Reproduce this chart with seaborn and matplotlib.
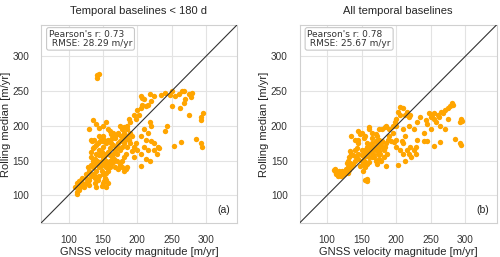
import matplotlib
matplotlib.use("Agg")
import matplotlib.pyplot as plt
import seaborn as sns
import pandas as pd


# (a) temporal baselines < 180 d : GNSS magnitude vs rolling median
GNSS_A = [
    142, 145, 142,
    265, 268, 260, 275, 280, 278, 270, 262, 268, 250, 255, 248, 235, 240, 225, 218, 205,
    207, 210, 220, 215, 207, 212, 205, 200, 202, 198, 195, 190, 188, 185, 175, 180, 178,
    172, 168, 165, 162, 160, 158, 155, 150, 145, 135, 140, 130, 137, 145, 150,
    275, 293, 295, 292, 285, 292, 294, 263, 254, 240, 243, 250,
    218, 220, 210, 215, 205, 212, 220, 225, 210, 215, 225, 230, 232, 228, 218, 213, 205,
    205, 200, 195, 198, 192, 190, 195,
    113, 112, 115, 110, 112, 115, 118, 120, 122, 125, 128, 125, 130, 132, 130, 135, 138,
    140, 135, 132, 130, 128, 140, 142, 138, 135, 133, 133, 135, 133, 140, 145, 145, 148,
    150, 148, 150, 152, 155, 155, 158, 160, 160, 162, 165, 165, 168, 170, 172, 175, 170,
    175, 178, 180, 182, 185, 180, 185, 183, 180, 178, 175, 170, 165, 162, 160, 158, 155,
    155, 153, 152, 150, 148, 145, 143, 147, 150, 157, 160, 163, 166, 168, 172, 178, 183,
    185, 180, 175, 155, 148, 140, 158, 155, 150, 145, 143, 138, 138, 125, 120, 118, 116,
    114,
    134, 137, 140, 143, 146, 148, 150, 152, 155, 157, 160, 163, 168, 172, 176, 180, 185,
    190, 188, 193,
]
MEDIAN_A = [
    273, 274, 268,
    250, 250, 245, 246, 247, 242, 238, 225, 232, 250, 243, 244, 244, 247, 243, 245, 243,
    240, 238, 235, 230, 230, 228, 225, 222, 215, 210, 215, 205, 210, 200, 200, 198, 195,
    188, 185, 190, 188, 192, 195, 205, 200, 197, 208, 202, 195, 180, 185, 178,
    215, 212, 218, 208, 181, 175, 170, 176, 171, 192, 199, 228,
    205, 200, 195, 190, 185, 180, 178, 175, 170, 165, 165, 170, 168, 160, 150, 152, 142,
    160, 165, 170, 175, 163, 175, 155,
    102, 105, 108, 112, 118, 120, 115, 117, 112, 118, 120, 125, 122, 128, 115, 130, 128,
    135, 140, 143, 135, 140, 145, 150, 152, 150, 155, 162, 168, 180, 160, 158, 165, 162,
    170, 150, 145, 155, 150, 160, 162, 158, 168, 175, 172, 160, 165, 170, 175, 178, 160,
    165, 170, 175, 180, 185, 190, 170, 160, 155, 150, 145, 150, 148, 145, 140, 135, 140,
    132, 125, 120, 130, 135, 140, 148, 142, 155, 145, 150, 155, 152, 140, 138, 140, 138,
    140, 135, 142, 112, 113, 112, 118, 122, 118, 128, 122, 125, 118, 130, 125, 122, 112,
    118,
    178, 170, 172, 175, 178, 180, 185, 180, 175, 180, 178, 182, 182, 190, 185, 182, 195,
    190, 180, 185,
]

# (b) all temporal baselines
GNSS_B = [
    110, 112, 115, 118, 120, 122, 125, 128, 130, 115, 113, 117, 120, 125, 112, 127, 130,
    132, 135, 138, 133, 128, 130, 132, 135, 133, 138, 140, 142, 145, 145, 140, 143, 145,
    145, 150, 150, 150, 152, 155, 148, 153, 155, 155, 157, 158, 158, 160, 160, 162, 163,
    165, 165, 167, 168, 170, 170, 172, 173, 175, 175, 175, 178, 180, 180, 177, 182, 183,
    185, 187, 178, 175, 170, 165, 160, 158, 155, 153, 152, 155, 157, 157, 168, 172, 185,
    182,
    153, 155, 160, 160, 165, 170, 172, 165, 145, 148, 150, 135, 140, 175, 180, 183, 185,
    190, 195, 198, 200, 203, 205, 210, 213, 215, 218, 220, 205, 200, 195, 190, 188, 192,
    197, 200,
    200, 205, 210, 210, 215, 218, 220, 222, 225, 228, 213, 203, 230, 240, 245, 243, 248,
    250, 252, 255, 255, 250, 265, 260, 270, 268, 275, 280, 278, 282, 275, 262, 258, 263,
    270, 293, 295, 292, 285, 292, 294, 263, 255, 235, 230, 225, 218, 210, 240, 228, 245,
    208, 212,
]
MEDIAN_B = [
    137, 135, 132, 130, 133, 135, 133, 135, 132, 128, 130, 135, 128, 130, 138, 138, 140,
    136, 140, 145, 147, 147, 150, 155, 160, 163, 158, 150, 155, 152, 160, 165, 168, 175,
    180, 165, 158, 150, 145, 140, 142, 155, 160, 165, 170, 175, 160, 162, 155, 168, 172,
    175, 165, 160, 170, 178, 165, 172, 160, 180, 170, 163, 175, 178, 170, 160, 165, 170,
    175, 160, 150, 152, 150, 155, 148, 145, 148, 150, 135, 122, 120, 124, 155, 145, 142,
    155,
    183, 185, 195, 198, 190, 188, 185, 182, 192, 188, 190, 185, 180, 195, 195, 198, 200,
    195, 200, 205, 210, 220, 227, 225, 215, 220, 212, 215, 215, 200, 190, 185, 180, 178,
    176, 180,
    170, 165, 160, 175, 165, 160, 170, 155, 165, 160, 150, 143, 180, 190, 203, 208, 218,
    212, 215, 210, 218, 195, 220, 215, 222, 218, 225, 232, 228, 230, 210, 212, 205, 200,
    195, 210, 207, 205, 181, 175, 173, 176, 171, 213, 205, 195, 200, 195, 178, 170, 178,
    178, 185,
]

PANELS = [
    ("Temporal baselines < 180 d", GNSS_A, MEDIAN_A, "Pearson's r: 0.73\n RMSE: 28.29 m/yr", "(a)"),
    ("All temporal baselines", GNSS_B, MEDIAN_B, "Pearson's r: 0.78\n RMSE: 25.67 m/yr", "(b)"),
]
LIMS = (60, 345)
TICKS = [100, 150, 200, 250, 300]


sns.set_theme(style="whitegrid")
plt.rcParams["font.family"] = ["Liberation Sans", "DejaVu Sans"]

fig = plt.figure(figsize=(5, 2.57), dpi=100)
positions = [[0.082, 0.132, 0.392, 0.771], [0.599, 0.132, 0.394, 0.771]]

for pos, (title, gnss, median, stats, tag) in zip(positions, PANELS):
    ax = fig.add_axes(pos)
    df = pd.DataFrame({"gnss": gnss, "median": median})
    sns.scatterplot(data=df, x="gnss", y="median", color="orange", s=15,
                    linewidth=0, ax=ax, zorder=3)
    ax.plot(LIMS, LIMS, color="#333333", lw=0.8, zorder=4)
    ax.set_xlim(LIMS)
    ax.set_ylim(LIMS)
    ax.set_xticks(TICKS)
    ax.set_yticks(TICKS)
    ax.tick_params(labelsize=7.2, pad=2.5, colors="#333333")
    ax.set_xlabel("GNSS velocity magnitude [m/yr]", fontsize=8, labelpad=1.5)
    ax.set_ylabel("Rolling median [m/yr]", fontsize=8, labelpad=1)
    ax.set_title(title, fontsize=8, pad=8)
    ax.grid(color="#e3e3e3", lw=0.8)
    for sp in ax.spines.values():
        sp.set_color("#d0d0d0")
        sp.set_linewidth(0.8)
    ax.text(0.04, 0.975, stats, transform=ax.transAxes, fontsize=6.5, va="top",
            ha="left", color="#333333", linespacing=1.0, family="DejaVu Sans",
            bbox=dict(boxstyle="round,pad=0.25", fc="white", ec="#c8c8c8", lw=0.8))
    ax.text(0.965, 0.04, tag, transform=ax.transAxes, fontsize=7.5, ha="right",
            va="bottom", color="#222222")

fig.savefig("out.png", dpi=100)
